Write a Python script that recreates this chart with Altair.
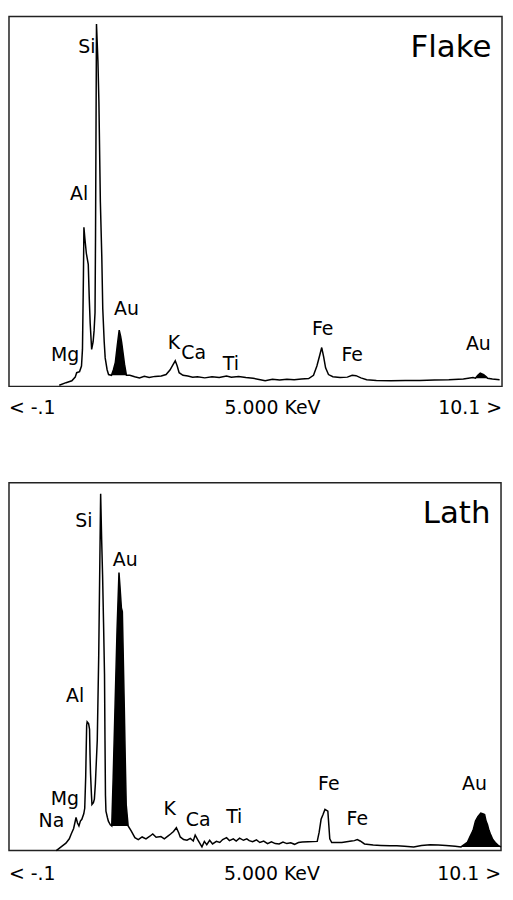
import altair as alt
import pandas as pd

# ---------------- data (energy in keV, counts in % of full scale) ----------------
flake_e = [0.94, 1.08, 1.20, 1.27, 1.30, 1.36, 1.40, 1.42, 1.44, 1.45, 1.47, 1.50, 1.54, 1.56,
           1.58, 1.61, 1.64, 1.66, 1.68, 1.69, 1.71, 1.74, 1.76, 1.79, 1.82, 1.84, 1.87, 1.89,
           1.93, 1.96, 2.02, 2.06, 2.10, 2.14, 2.18, 2.21, 2.23, 2.26, 2.29, 2.33, 2.40, 2.50,
           2.60, 2.70, 2.80, 2.92, 3.05, 3.15, 3.23, 3.30, 3.34, 3.38, 3.42, 3.50, 3.60, 3.70,
           3.80, 3.95, 4.10, 4.25, 4.40, 4.50, 4.65, 4.80, 4.95, 5.10, 5.20, 5.35, 5.50, 5.65,
           5.80, 5.95, 6.10, 6.20, 6.27, 6.33, 6.37, 6.41, 6.45, 6.51, 6.60, 6.75, 6.90, 7.00,
           7.08, 7.18, 7.30, 7.50, 7.80, 8.10, 8.40, 8.70, 9.00, 9.30, 9.50, 9.55, 9.60, 9.65,
           9.72, 9.78, 9.80, 9.90, 10.05]
flake_c = [0.3, 1.0, 1.5, 2.5, 3.7, 4.0, 5.5, 10, 30, 43, 40, 36, 33, 24,
           17, 10, 12, 15, 20, 40, 98, 88, 77, 50, 35, 21, 12, 7.7,
           4.5, 3.2, 3.0, 4.5, 6.5, 11, 15.2, 13.5, 12, 9, 6, 3.0, 3.0, 2.6,
           2.3, 2.7, 2.4, 2.7, 2.8, 3.2, 4.4, 6.0, 6.9, 5.5, 3.7, 3.0, 2.8, 2.5,
           2.6, 2.3, 2.6, 2.4, 2.8, 2.5, 2.7, 2.4, 2.2, 1.8, 1.5, 1.9, 1.7, 1.9,
           1.8, 2.0, 2.1, 3.0, 5.5, 8.5, 10.5, 8, 5, 3.2, 2.6, 2.4, 2.5, 3.0,
           2.9, 2.3, 1.8, 1.6, 1.5, 1.6, 1.6, 1.7, 1.8, 2.0, 2.4, 2.2, 3.0, 3.6,
           3.2, 2.5, 2.2, 2.0, 1.8]

lath_e = [0.88, 1.00, 1.08, 1.15, 1.19, 1.24, 1.29, 1.32, 1.35, 1.38, 1.41, 1.45, 1.47, 1.49,
          1.51, 1.52, 1.55, 1.57, 1.58, 1.59, 1.61, 1.62, 1.65, 1.67, 1.69, 1.70, 1.73, 1.76,
          1.78, 1.80, 1.82, 1.84, 1.86, 1.88, 1.89, 1.90, 1.91, 1.94, 1.96, 2.00, 2.03, 2.06,
          2.10, 2.14, 2.18, 2.20, 2.23, 2.25, 2.27, 2.29, 2.31, 2.33, 2.37, 2.43, 2.51, 2.58,
          2.66, 2.74, 2.82, 2.88, 2.95, 3.05, 3.12, 3.20, 3.25, 3.31, 3.37, 3.42, 3.45, 3.52,
          3.59, 3.66, 3.72, 3.76, 3.82, 3.90, 3.95, 4.00, 4.06, 4.12, 4.20, 4.27, 4.33, 4.41,
          4.47, 4.55, 4.61, 4.68, 4.76, 4.83, 4.88, 4.95, 5.03, 5.10, 5.18, 5.26, 5.34, 5.42,
          5.50, 5.58, 5.66, 5.74, 5.82, 5.90, 5.98, 6.10, 6.29, 6.33, 6.37, 6.41, 6.45, 6.51,
          6.55, 6.59, 6.80, 7.00, 7.06, 7.12, 7.18, 7.27, 7.45, 7.61, 7.80, 7.94, 8.10, 8.29,
          8.45, 8.63, 8.80, 8.96, 9.15, 9.27, 9.40, 9.45, 9.52, 9.57, 9.62, 9.68, 9.72, 9.76,
          9.79, 9.82, 9.85, 9.88, 9.93, 9.98, 10.05, 10.10]
lath_c = [0, 1.2, 2, 3.2, 4.5, 6, 9, 7.5, 6.7, 8, 8.5, 10, 11.5, 20,
          34, 35, 34.5, 33, 26, 21, 15, 12.5, 13, 14, 18, 21, 30, 53,
          75, 97, 85, 75, 62, 48, 30, 15, 10.7, 9, 8, 7, 6.7, 20,
          40, 60, 75.6, 72, 66, 65, 52, 39, 25, 12.5, 6.7, 5.4, 3.5, 3.0,
          3.7, 3.2, 3.9, 4.5, 3.6, 3.8, 3.2, 4.0, 4.5, 5.2, 6.2, 4.8, 3.7, 3.0,
          2.8, 3.3, 2.6, 4.2, 2.8, 1.0, 2.5, 1.6, 2.8, 1.8, 2.5, 2.2, 3.0, 3.5,
          2.7, 3.2, 2.6, 3.4, 2.8, 3.2, 2.7, 2.4, 2.9, 2.2, 2.6, 1.9, 2.4, 1.9,
          1.8, 2.3, 1.9, 2.1, 1.7, 2.2, 2.3, 2.4, 2.5, 5.0, 8.5, 9.8, 11.2, 10.7,
          3.2, 2.2, 2.2, 2.6, 2.7, 3.0, 2.6, 1.8, 1.5, 1.4, 1.3, 1.3, 1.2, 1.0,
          1.4, 1.6, 1.5, 1.4, 1.2, 1.0, 2.2, 3.6, 5.5, 8.0, 9.2, 10.2, 10.0, 9.8,
          8.0, 7.0, 5.5, 4.5, 3.0, 2.2, 1.3, 1.0]

# filled (Au) peak regions: low energy, high energy, background level
flake_fill_lo = [2.02, 9.55]
flake_fill_hi = [2.33, 9.80]
flake_fill_bg = [3.0, 2.2]
lath_fill_lo = [2.03, 9.27]
lath_fill_hi = [2.37, 10.10]
lath_fill_bg = [6.7, 1.0]

# peak labels
flake_lab = ["Si", "Al", "Au", "Mg", "K", "Ca", "Ti", "Fe", "Fe", "Au"]
flake_lab_e = [1.51, 1.35, 2.33, 1.06, 3.31, 3.72, 4.49, 6.39, 7.00, 9.61]
flake_lab_c = [91.7, 52, 21, 8.5, 11.7, 9, 6, 15.5, 8.5, 11.5]
lath_lab = ["Si", "Au", "Al", "Mg", "Na", "K", "Ca", "Ti", "Fe", "Fe", "Au"]
lath_lab_e = [1.45, 2.31, 1.27, 1.06, 0.78, 3.23, 3.82, 4.57, 6.53, 7.12, 9.55]
lath_lab_c = [89.5, 79, 42, 14, 8, 11.3, 8.3, 9, 18, 8.6, 18]

# axis annotations
axis_text = ["< -.1", "5.000 KeV", "10.1  >"]
axis_e = [-0.1, 5.35, 10.1]
axis_align = ["left", "center", "right"]

FONT = "DejaVu Sans"
XDOM = [-0.1, 10.1]


def panel(te, tc, flo, fhi, fbg, labs, le, lc, name, w, h, text_off):
    xs = alt.Scale(domain=XDOM, nice=False, zero=False)
    ys = alt.Scale(domain=[0, 100], nice=False, zero=False)
    tr = pd.DataFrame({"E": te, "c": tc})
    rows = []
    for k, (lo, hi, bg) in enumerate(zip(flo, fhi, fbg)):
        for e, c in zip(te, tc):
            if lo <= e <= hi:
                rows.append({"E": e, "c": c, "bg": bg, "g": k})
    fd = pd.DataFrame(rows)
    line = alt.Chart(tr).mark_line(color="black", strokeWidth=1.5).encode(
        x=alt.X("E:Q", scale=xs, axis=None),
        y=alt.Y("c:Q", scale=ys, axis=None),
    )
    fill = alt.Chart(fd).mark_area(color="black", opacity=1).encode(
        x=alt.X("E:Q", scale=xs, axis=None),
        y=alt.Y("c:Q", scale=ys, axis=None),
        y2=alt.Y2("bg:Q"),
        detail="g:N",
    )
    ld = pd.DataFrame({"t": labs, "E": le, "c": lc})
    labels = alt.Chart(ld).mark_text(font=FONT, fontSize=19, color="black",
                                     align="center", baseline="middle").encode(
        x=alt.X("E:Q", scale=xs, axis=None),
        y=alt.Y("c:Q", scale=ys, axis=None),
        text="t:N",
    )
    nd = pd.DataFrame({"t": [name], "E": [9.88], "c": [89]})
    title = alt.Chart(nd).mark_text(font=FONT, fontSize=31, color="black",
                                    align="right", baseline="alphabetic").encode(
        x=alt.X("E:Q", scale=xs, axis=None),
        y=alt.Y("c:Q", scale=ys, axis=None),
        text="t:N",
    )
    layers = [line, fill, labels, title]
    for t, e, a in zip(axis_text, axis_e, axis_align):
        ad = pd.DataFrame({"t": [t], "E": [e]})
        layers.append(
            alt.Chart(ad).mark_text(font=FONT, fontSize=19, color="black", align=a,
                                    baseline="alphabetic").encode(
                x=alt.X("E:Q", scale=xs, axis=None),
                y=alt.value(h + text_off),
                text="t:N",
            )
        )
    return alt.layer(*layers).properties(width=w, height=h)


top = panel(flake_e, flake_c, flake_fill_lo, flake_fill_hi, flake_fill_bg,
            flake_lab, flake_lab_e, flake_lab_c, "Flake", 496, 372, 28)
bot = panel(lath_e, lath_c, lath_fill_lo, lath_fill_hi, lath_fill_bg,
            lath_lab, lath_lab_e, lath_lab_c, "Lath", 495, 370, 30)

chart = alt.vconcat(top, bot, spacing=97, bounds="flush").properties(
    padding={"left": 0, "top": 5, "right": 0, "bottom": 0},
    background="white",
).configure_view(stroke="#222", strokeWidth=1.5)

chart.save("out.html", embed_options={"renderer": "svg", "actions": False})
